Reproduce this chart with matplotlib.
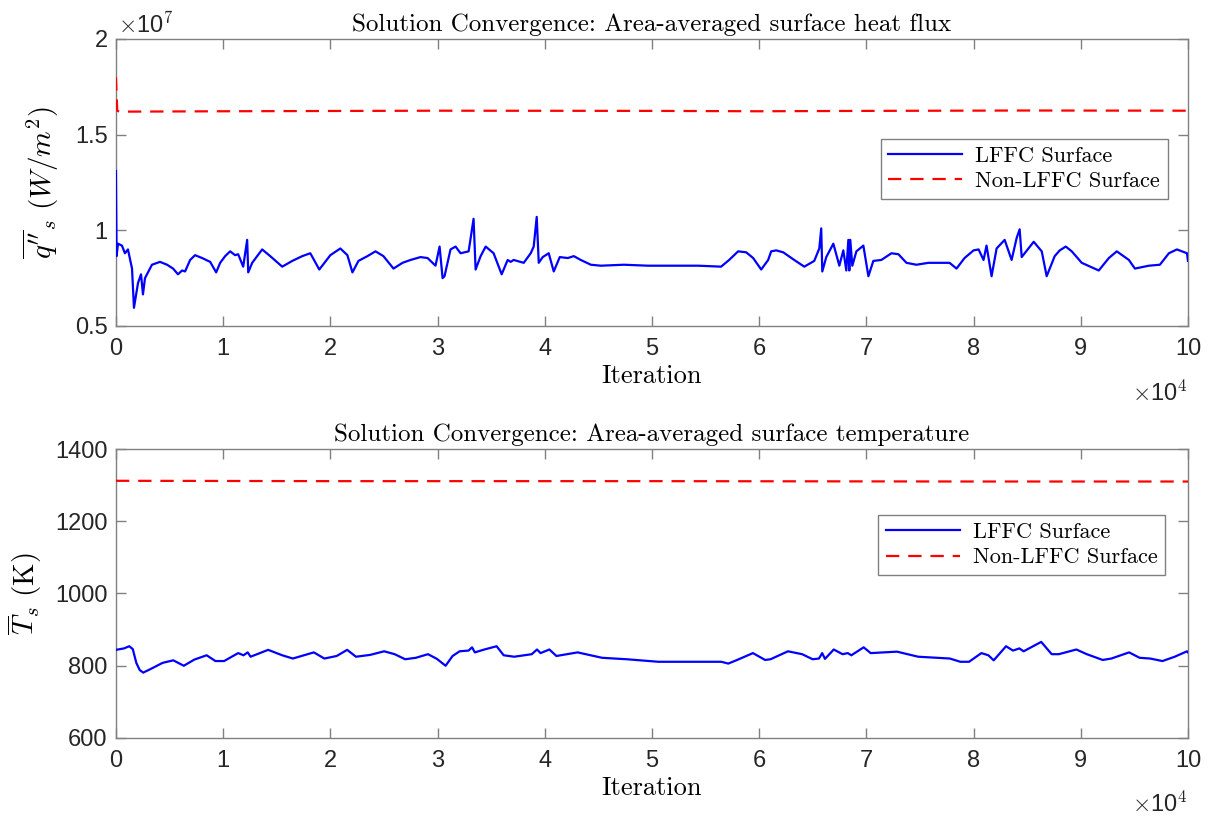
import matplotlib
matplotlib.use("Agg")
import matplotlib.pyplot as plt
from matplotlib.ticker import FuncFormatter, MultipleLocator
import numpy as np

# ------------------------------------------------------------
# DATA
# ------------------------------------------------------------

# surface heat flux, LFFC surface (iteration, W/m^2 in units of 1e7)
flux_lffc_it = [0, 60, 190, 560, 840, 1120, 1500, 1680, 2060, 2340, 2520, 2710, 3360,
                4110, 4770, 5330, 5790, 6170, 6450, 6920, 7380, 8040, 8790, 9350,
                9720, 10190, 10650, 11120, 11400, 11870, 12240, 12340, 12710, 13640,
                14390, 15510, 16450, 17380, 18130, 18970, 20000, 20930, 21590, 22060,
                22620, 23460, 24210, 24950, 25890, 26730, 27480, 28410, 29070, 29810,
                30190, 30470, 30650, 31210, 31680, 32150, 32900, 33360, 33550, 34020,
                34490, 35230, 35980, 36540, 36820, 37100, 38040, 38690, 38970, 39250,
                39440, 39810, 40370, 40840, 41400, 42150, 42710, 43360, 44300, 45230,
                47380, 49630, 52060, 54300, 56450, 57200, 58040, 58790, 59440, 60190,
                60840, 61120, 61590, 62240, 63270, 64210, 65140, 65610, 65790, 65890,
                66260, 66920, 67480, 67850, 68130, 68320, 68410, 68500, 68690, 69070,
                69720, 70190, 70650, 71400, 72340, 72990, 73740, 74670, 75790, 77760,
                78410, 79160, 80000, 80470, 80930, 81210, 81680, 82150, 82900, 83550,
                84020, 84300, 84490, 85610, 86360, 86820, 87570, 88040, 88600, 89160,
                90090, 91680, 92620, 93360, 94490, 95050, 96360, 97380, 98220, 98970,
                99910, 100000]
flux_lffc = [1.31, 0.865, 0.93, 0.92, 0.88, 0.90, 0.80, 0.595, 0.725, 0.77, 0.665, 0.75,
             0.82, 0.835, 0.82, 0.80, 0.77, 0.79, 0.785, 0.845, 0.87, 0.855, 0.835, 0.78,
             0.83, 0.865, 0.89, 0.87, 0.875, 0.81, 0.95, 0.78, 0.83, 0.90, 0.865, 0.81,
             0.84, 0.865, 0.88, 0.795, 0.87, 0.905, 0.87, 0.78, 0.84, 0.865, 0.89, 0.865,
             0.80, 0.83, 0.845, 0.86, 0.855, 0.815, 0.915, 0.75, 0.76, 0.90, 0.915, 0.88,
             0.89, 1.06, 0.795, 0.865, 0.915, 0.88, 0.77, 0.845, 0.835, 0.845, 0.83, 0.88,
             0.915, 1.07, 0.83, 0.86, 0.88, 0.785, 0.86, 0.855, 0.865, 0.845, 0.82, 0.815,
             0.82, 0.815, 0.815, 0.815, 0.81, 0.845, 0.89, 0.885, 0.855, 0.795, 0.845,
             0.89, 0.895, 0.885, 0.845, 0.81, 0.84, 0.905, 1.01, 0.785, 0.86, 0.93, 0.815,
             0.895, 0.79, 0.95, 0.79, 0.95, 0.815, 0.89, 0.92, 0.76, 0.84, 0.845, 0.88,
             0.875, 0.83, 0.82, 0.83, 0.83, 0.80, 0.855, 0.895, 0.90, 0.845, 0.92, 0.76,
             0.905, 0.95, 0.845, 0.96, 1.005, 0.86, 0.94, 0.89, 0.76, 0.865, 0.895, 0.915,
             0.89, 0.83, 0.79, 0.855, 0.89, 0.845, 0.80, 0.815, 0.82, 0.88, 0.90, 0.88,
             0.84]

# surface heat flux, non-LFFC surface
flux_non_it = [0, 120, 300, 10000, 30000, 50000, 60000, 70000, 85000, 100000]
flux_non = [1.80, 1.625, 1.62, 1.622, 1.625, 1.624, 1.622, 1.624, 1.626, 1.625]

# surface temperature, LFFC surface (iteration, K)
temp_lffc_it = [0, 750, 1240, 1570, 1900, 2220, 2550, 3370, 4350, 5350, 6330, 7310, 8460,
                9280, 10090, 11400, 11900, 12290, 12560, 14200, 15510, 16500, 18460,
                19440, 20590, 21570, 22390, 23700, 25020, 26000, 26980, 27970, 29110,
                29940, 30750, 31400, 32060, 32890, 33220, 33480, 34370, 35510, 36170,
                37150, 38790, 39280, 39610, 40430, 41090, 43060, 45350, 47650, 50600,
                56470, 57120, 57940, 59420, 60560, 61060, 62690, 64010, 64990, 65580,
                65880, 66140, 66960, 67780, 68270, 68600, 69750, 70400, 72860, 74830,
                77780, 78770, 79580, 80730, 81380, 81880, 83030, 83680, 84270, 84670,
                86310, 87290, 87950, 89590, 90560, 92050, 92860, 94510, 95490, 96470,
                97620, 98770, 99910, 100000]
temp_lffc = [844, 848, 854, 846, 808, 788, 781, 793, 808, 815, 800, 817, 829, 813, 813,
             835, 829, 837, 825, 844, 829, 820, 837, 820, 827, 844, 825, 830, 840, 832,
             818, 822, 832, 819, 800, 827, 840, 842, 851, 837, 845, 854, 829, 825, 832,
             845, 835, 845, 827, 837, 822, 818, 811, 811, 806, 816, 835, 816, 818, 840,
             832, 818, 820, 835, 819, 845, 832, 835, 829, 851, 835, 839, 825, 820, 811,
             811, 835, 829, 815, 854, 842, 848, 840, 866, 832, 832, 845, 832, 816, 820,
             837, 822, 820, 813, 825, 840, 837]

# surface temperature, non-LFFC surface
temp_non_it = [0, 20000, 50000, 80000, 100000]
temp_non = [1312, 1311, 1311, 1310, 1310]

x_ticks = np.arange(0, 100001, 10000)

# ------------------------------------------------------------
# STYLE
# ------------------------------------------------------------

plt.rcParams["mathtext.fontset"] = "cm"
plt.rcParams["axes.unicode_minus"] = False

SERIF = "cmr10"
TICK_FONT = "Liberation Sans"
AX_GRAY = "#808080"
TXT_GRAY = "#262626"


def style_axes(ax):
    for sp in ax.spines.values():
        sp.set_color(AX_GRAY)
        sp.set_linewidth(1.0)
    ax.tick_params(direction="in", length=7, width=1.0, color=AX_GRAY,
                   top=True, right=True, labelsize=17, labelcolor=TXT_GRAY)
    ax.tick_params(axis="x", pad=9)
    ax.tick_params(axis="y", pad=6)
    for lab in ax.get_xticklabels() + ax.get_yticklabels():
        lab.set_fontfamily(TICK_FONT)


def add_legend(ax, anchor):
    leg = ax.legend(loc="upper right", bbox_to_anchor=anchor, frameon=True,
                    fancybox=False, edgecolor=AX_GRAY, framealpha=1,
                    handlelength=3.3, handletextpad=0.6, borderpad=0.35,
                    labelspacing=0.25, borderaxespad=0,
                    prop={"family": SERIF, "size": 16})
    leg.get_frame().set_linewidth(1.0)
    return leg


fig = plt.figure(figsize=(12.09, 8.18), dpi=100)

# ------------------------------------------------------------
# TOP: heat flux
# ------------------------------------------------------------
ax1 = fig.add_axes([0.0959, 0.6015, 0.8867, 0.3509])
ax1.plot(flux_lffc_it, np.array(flux_lffc) * 1e7, color="#0000FF", lw=1.6,
         label="LFFC Surface", zorder=3)
ax1.plot(flux_non_it, np.array(flux_non) * 1e7, color="#FF0000", lw=1.6,
         dashes=(6, 4), label="Non-LFFC Surface", zorder=3)
ax1.set_xlim(0, 100000)
ax1.set_ylim(0.5e7, 2e7)
ax1.set_xticks(x_ticks)
ax1.yaxis.set_major_locator(MultipleLocator(0.5e7))
ax1.xaxis.set_major_formatter(FuncFormatter(lambda v, p: f"{v / 1e4:g}"))
ax1.yaxis.set_major_formatter(FuncFormatter(lambda v, p: f"{v / 1e7:g}"))
style_axes(ax1)
ax1.set_title("Solution Convergence: Area-averaged surface heat flux",
              fontfamily=SERIF, fontsize=18, pad=6)
ax1.set_xlabel("Iteration", fontfamily=SERIF, fontsize=19, labelpad=3)
ax1.set_ylabel(r"$\overline{q''}_s\ (W/m^2)$", fontsize=21, labelpad=10)
ax1.text(0.002, 1.005, r"$\times$10$^7$", transform=ax1.transAxes, fontsize=17,
         fontfamily=TICK_FONT, color=TXT_GRAY, ha="left", va="bottom")
ax1.text(1.0, -0.19, r"$\times$10$^4$", transform=ax1.transAxes, fontsize=17,
         fontfamily=TICK_FONT, color=TXT_GRAY, ha="right", va="top")
add_legend(ax1, (0.981, 0.652))

# ------------------------------------------------------------
# BOTTOM: temperature
# ------------------------------------------------------------
ax2 = fig.add_axes([0.0959, 0.0978, 0.8867, 0.3533])
ax2.plot(temp_lffc_it, temp_lffc, color="#0000FF", lw=1.6, label="LFFC Surface",
         zorder=3)
ax2.plot(temp_non_it, temp_non, color="#FF0000", lw=1.6, dashes=(6, 4),
         label="Non-LFFC Surface", zorder=3)
ax2.set_xlim(0, 100000)
ax2.set_ylim(600, 1400)
ax2.set_xticks(x_ticks)
ax2.yaxis.set_major_locator(MultipleLocator(200))
ax2.xaxis.set_major_formatter(FuncFormatter(lambda v, p: f"{v / 1e4:g}"))
style_axes(ax2)
ax2.set_title("Solution Convergence: Area-averaged surface temperature",
              fontfamily=SERIF, fontsize=18, pad=6)
ax2.set_xlabel("Iteration", fontfamily=SERIF, fontsize=19, labelpad=3)
ax2.set_ylabel(r"$\overline{T}_s\ (\mathrm{K})$", fontsize=21, labelpad=8)
ax2.text(1.0, -0.185, r"$\times$10$^4$", transform=ax2.transAxes, fontsize=17,
         fontfamily=TICK_FONT, color=TXT_GRAY, ha="right", va="top")
add_legend(ax2, (0.979, 0.772))

fig.savefig("out.png", dpi=100)
